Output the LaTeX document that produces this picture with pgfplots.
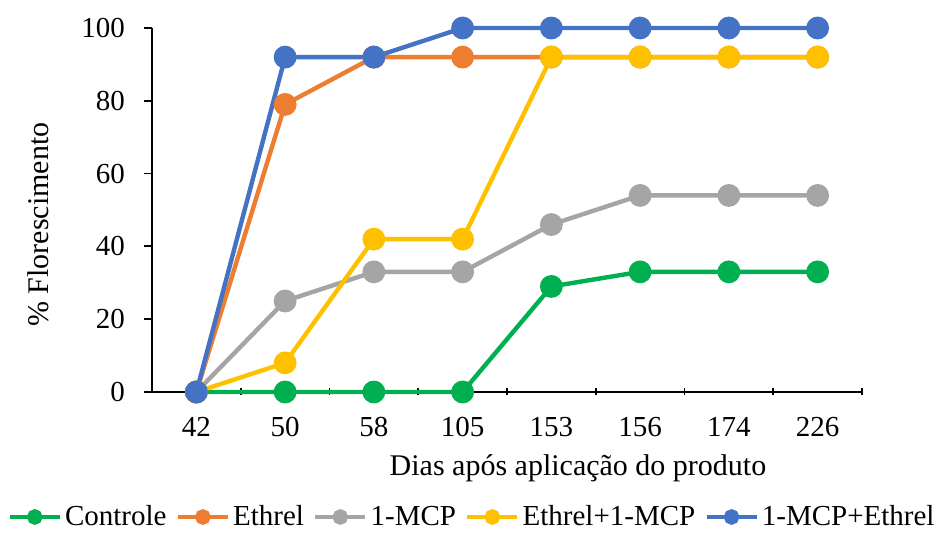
\documentclass[border=0pt]{standalone}
\usepackage{pgfplots}
\pgfplotsset{compat=1.18}
\usepackage{fontspec}
\setmainfont{Liberation Serif}
\definecolor{cG}{HTML}{00B050}
\definecolor{cO}{HTML}{ED7D31}
\definecolor{cA}{HTML}{A5A5A5}
\definecolor{cY}{HTML}{FFC000}
\definecolor{cB}{HTML}{4472C4}
\begin{document}
\begin{tikzpicture}
\begin{axis}[
  scale only axis,
  width=355pt, height=182pt,
  xmin=-0.5, xmax=7.5, ymin=0, ymax=100,
  clip=false,
  axis x line=bottom, axis y line=left,
  axis line style={-, line width=0.9pt},
  xtick={0,...,7},
  xticklabels={42,50,58,105,153,156,174,226},
  major x tick style={draw=none},
  minor xtick={0.5,1.5,...,7.5},
  minor x tick style={line width=0.9pt, black},
  minor tick length=3.5pt,
  ytick={0,20,...,100},
  ytick align=outside,
  major tick length=4pt,
  y tick style={line width=0.9pt, black},
  tick label style={font=\fontsize{14.5}{16}\selectfont},
  /pgf/number format/assume math mode=true,
  xticklabel style={yshift=-7pt},
  yticklabel style={xshift=-6pt},
  xlabel={Dias após aplicação do produto},
  ylabel={\% Florescimento},
  label style={font=\fontsize{15}{17}\selectfont},
  xlabel style={at={(axis description cs:0.6,-0.21)}, anchor=center},
  ylabel style={at={(axis description cs:-0.16,0.46)}, anchor=center},
  legend columns=5,
  legend style={draw=none, fill=none, font=\fontsize{14.5}{16}\selectfont,
    at={(axis description cs:0.4514,-0.3434)}, anchor=center,
    nodes={inner xsep=1.5pt},
    /tikz/every even column/.append style={column sep=3pt},
    inner sep=0pt},
  legend cell align=left,
  legend image code/.code={\draw[#1, mark=none, line width=2.3pt] (0pt,0pt) -- (25pt,0pt); \fill[#1] (12.5pt,0pt) circle (2.8pt);},
  every axis plot/.append style={line width=2.2pt, mark=*, mark size=4.6pt},
]
\addplot[cG, mark options={fill=cG, draw=cG}] coordinates {(0,0) (1,0) (2,0) (3,0) (4,29) (5,33) (6,33) (7,33)};
\addlegendentry{Controle}
\addplot[cO, mark options={fill=cO, draw=cO}] coordinates {(0,0) (1,79) (2,92) (3,92) (4,92) (5,92) (6,92) (7,92)};
\addlegendentry{Ethrel}
\addplot[cA, mark options={fill=cA, draw=cA}] coordinates {(0,0) (1,25) (2,33) (3,33) (4,46) (5,54) (6,54) (7,54)};
\addlegendentry{1-MCP}
\addplot[cY, mark options={fill=cY, draw=cY}] coordinates {(0,0) (1,8) (2,42) (3,42) (4,92) (5,92) (6,92) (7,92)};
\addlegendentry{Ethrel+1-MCP}
\addplot[cB, mark options={fill=cB, draw=cB}] coordinates {(0,0) (1,92) (2,92) (3,100) (4,100) (5,100) (6,100) (7,100)};
\addlegendentry{1-MCP+Ethrel}
\path (axis description cs:-0.2141,-0.3819) rectangle (axis description cs:1.1169,1.0769);
\end{axis}
\end{tikzpicture}
\end{document}
